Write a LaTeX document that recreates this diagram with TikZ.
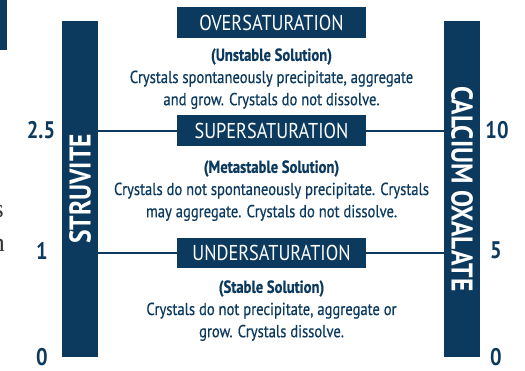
\documentclass[tikz,border=0pt]{standalone}
\usepackage{fontspec}
\setmainfont{PT Sans}[FakeStretch=0.85]
\newfontfamily\descfont{PT Sans}[FakeStretch=0.84,FakeBold=0.6]
\newfontfamily\edgefont{Liberation Serif}
\usetikzlibrary{positioning}
\definecolor{navy}{RGB}{12,58,94}

\begin{document}
\begin{tikzpicture}[x=1pt,y=-1pt,
  bar/.style={fill=navy,minimum width=336pt,minimum height=36pt,inner sep=0pt,text=white,font=\fontsize{30}{30}\selectfont\bfseries},
  head/.style={fill=navy,minimum width=189pt,minimum height=31pt,inner sep=0pt,text=white,font=\fontsize{21.5}{21.5}\selectfont},
  desc/.style={text=navy,align=center,inner sep=0pt,font=\descfont\fontsize{17.4}{22.2}\selectfont},
  num/.style={text=navy,inner sep=0pt,font=\fontsize{24}{24}\selectfont\bfseries},
  link/.style={draw=navy,line width=2pt}]
  \useasboundingbox (0,0) rectangle (525,370);
  \fill[navy] (0,0) rectangle (7,50);
  \node[anchor=east,inner sep=0pt,text=black!80,font=\edgefont\fontsize{26}{26}\selectfont] (es) at (4,211) {s};
  \node[anchor=east,inner sep=0pt,text=black!80,font=\edgefont\fontsize{26}{26}\selectfont] (en) at (5,245) {n};
  \node[bar,rotate=90] (sv) at (80,189) {STRUVITE};
  \node[bar,rotate=-90] (cox) at (462,189) {CALCIUM OXALATE};
  \node[head] (over) at (271.5,22.5) {OVERSATURATION};
  \node[head] (super) at (271.5,130.5) {SUPERSATURATION};
  \node[head,minimum height=30pt] (under) at (271.5,253) {UNDERSATURATION};
  \node[desc,below=10pt of over] (overtxt) {\textbf{(Unstable Solution)}\\Crystals spontaneously precipitate, aggregate\\and grow. Crystals do not dissolve.};
  \node[desc,below=14pt of super] (supertxt) {\textbf{(Metastable Solution)}\\Crystals do not spontaneously precipitate. Crystals\\may aggregate. Crystals do not dissolve.};
  \node[desc,below=12pt of under] (undertxt) {\textbf{(Stable Solution)}\\Crystals do not precipitate, aggregate or\\grow. Crystals dissolve.};
  \draw[link] (sv.south |- super.west) -- (super.west);
  \draw[link] (super.east) -- (cox.south |- super.east);
  \draw[link] (sv.south |- under.west) -- (under.west);
  \draw[link] (under.east) -- (cox.south |- under.east);
  \node[num] (s25) at (41,130) {2.5};
  \node[num] (s1) at (42,251) {1};
  \node[num] (s0) at (42,357) {0};
  \node[num] (c10) at (497,130) {10};
  \node[num] (c5) at (496,250) {5};
  \node[num] (c0) at (496,357) {0};
\end{tikzpicture}
\end{document}
